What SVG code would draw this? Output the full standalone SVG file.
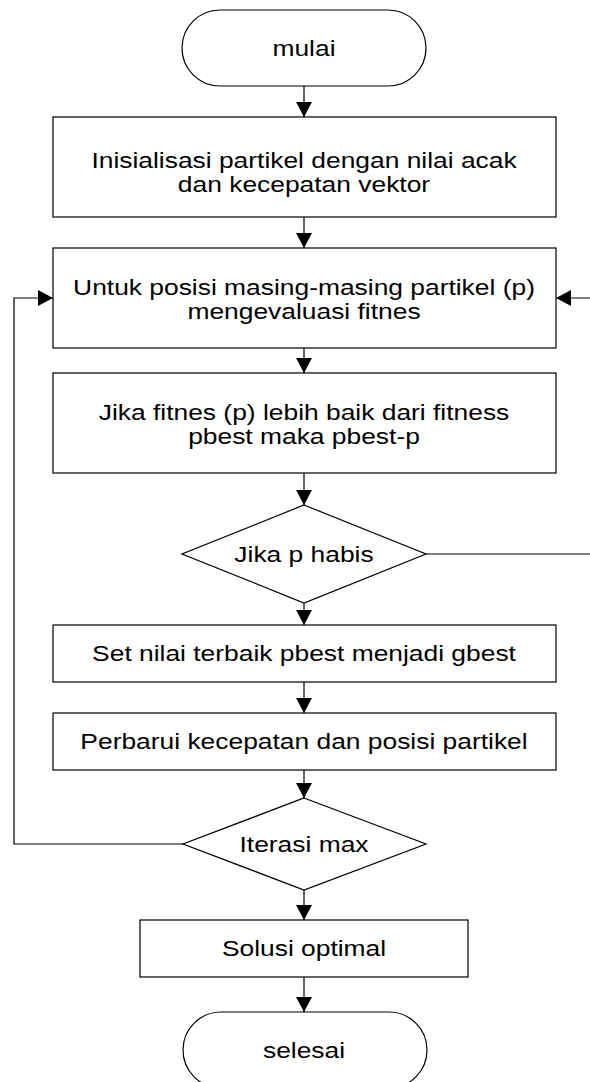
<svg xmlns="http://www.w3.org/2000/svg" width="590" height="1082" viewBox="0 0 590 1082">
  <style>
    .shape { fill: #ffffff; stroke: #000000; stroke-width: 1.2; }
    .link { fill: none; stroke: #000000; stroke-width: 1.2; }
    .t { font-family: "Liberation Sans", Arial, sans-serif; font-size: 22px; fill: #000000; text-anchor: middle; }
  </style>
  <defs>
    <marker id="arrow" viewBox="0 0 15 16" refX="15" refY="8" markerWidth="15" markerHeight="16" markerUnits="userSpaceOnUse" orient="auto">
      <path d="M0,0 L15,8 L0,16 Z" fill="#000000"/>
    </marker>
  </defs>
  <rect width="590" height="1082" fill="#ffffff"/>

  <!-- connectors -->
  <g id="connectors">
    <line class="link" x1="304" y1="86" x2="304" y2="117" marker-end="url(#arrow)"/>
    <line class="link" x1="304" y1="217" x2="304" y2="248" marker-end="url(#arrow)"/>
    <line class="link" x1="304" y1="348" x2="304" y2="373" marker-end="url(#arrow)"/>
    <line class="link" x1="304" y1="473" x2="304" y2="505" marker-end="url(#arrow)"/>
    <line class="link" x1="304" y1="603" x2="304" y2="625" marker-end="url(#arrow)"/>
    <line class="link" x1="304" y1="682" x2="304" y2="713" marker-end="url(#arrow)"/>
    <line class="link" x1="304" y1="770" x2="304" y2="798" marker-end="url(#arrow)"/>
    <line class="link" x1="304" y1="890" x2="304" y2="920" marker-end="url(#arrow)"/>
    <line class="link" x1="304" y1="977" x2="304" y2="1012" marker-end="url(#arrow)"/>
    <!-- loop back when particles remain -->
    <path class="link" d="M426,554 L592,554 L592,298 L556,298" marker-end="url(#arrow)"/>
    <!-- loop back while iterations remain -->
    <path class="link" d="M183,844 L14,844 L14,298 L53,298" marker-end="url(#arrow)"/>
  </g>

  <g id="start">
    <rect class="shape" x="182" y="10" width="244" height="76" rx="38" ry="38"/>
    <text class="t" transform="translate(304 56) scale(1.2 1)">mulai</text>
  </g>

  <g id="init">
    <rect class="shape" x="53" y="117" width="503" height="100"/>
    <text class="t" transform="translate(304 168) scale(1.2 1)">Inisialisasi partikel dengan nilai acak</text>
    <text class="t" transform="translate(304 192) scale(1.2 1)">dan kecepatan vektor</text>
  </g>

  <g id="evaluate">
    <rect class="shape" x="53" y="248" width="503" height="100"/>
    <text class="t" transform="translate(304 295) scale(1.2 1)">Untuk posisi masing-masing partikel (p)</text>
    <text class="t" transform="translate(304 319) scale(1.2 1)">mengevaluasi fitnes</text>
  </g>

  <g id="pbest">
    <rect class="shape" x="53" y="373" width="503" height="100"/>
    <text class="t" transform="translate(304 420) scale(1.2 1)">Jika fitnes (p) lebih baik dari fitness</text>
    <text class="t" transform="translate(304 444) scale(1.2 1)">pbest maka pbest-p</text>
  </g>

  <g id="p-done">
    <polygon class="shape" points="304,505 426,554 304,603 182,554"/>
    <text class="t" transform="translate(304 562) scale(1.2 1)">Jika p habis</text>
  </g>

  <g id="gbest">
    <rect class="shape" x="53" y="625" width="503" height="57"/>
    <text class="t" transform="translate(304 661) scale(1.2 1)">Set nilai terbaik pbest menjadi gbest</text>
  </g>

  <g id="update">
    <rect class="shape" x="53" y="713" width="503" height="57"/>
    <text class="t" transform="translate(304 749) scale(1.2 1)">Perbarui kecepatan dan posisi partikel</text>
  </g>

  <g id="max-iter">
    <polygon class="shape" points="304,798 426,844 304,890 183,844"/>
    <text class="t" transform="translate(304 852) scale(1.2 1)">Iterasi max</text>
  </g>

  <g id="solution">
    <rect class="shape" x="140" y="920" width="328" height="57"/>
    <text class="t" transform="translate(304 956) scale(1.2 1)">Solusi optimal</text>
  </g>

  <g id="end">
    <rect class="shape" x="183" y="1012" width="244" height="76" rx="38" ry="38"/>
    <text class="t" transform="translate(304 1058) scale(1.2 1)">selesai</text>
  </g>
</svg>
